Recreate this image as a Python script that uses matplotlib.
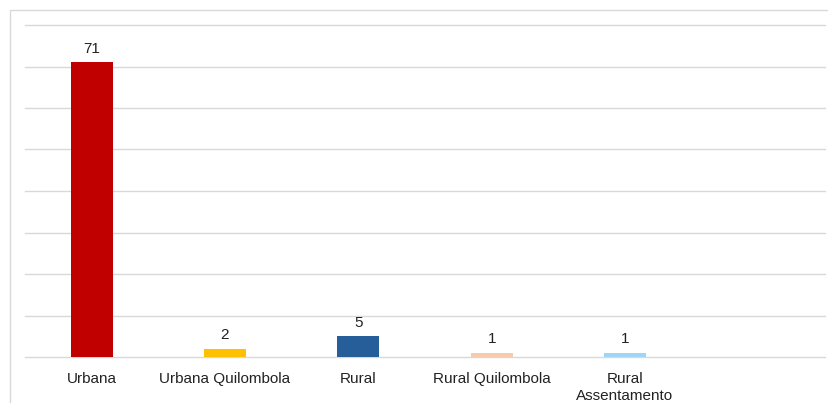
import matplotlib.pyplot as plt
from matplotlib.patches import Rectangle

categorias = ["Urbana", "Urbana Quilombola", "Rural", "Rural Quilombola", "Rural\nAssentamento", ""]
valores = [71, 2, 5, 1, 1, 0]
cores = ["#C00000", "#FFC000", "#255E99", "#F8CBAD", "#9DD7F5", "none"]
rotulos = ["71", "2", "5", "1", "1", ""]

plt.rcParams["font.family"] = ["Liberation Sans", "DejaVu Sans"]

W, H = 829, 403
fig = plt.figure(figsize=(W / 100, H / 100), dpi=100)
fig.patches.append(Rectangle((10 / W, -0.1), 1.2, (H - 10) / H + 0.1, transform=fig.transFigure,
                             fill=False, edgecolor="#D9D9D9", linewidth=1))
ax = fig.add_axes([25 / W, 46 / H, 800 / W, 332 / H])

x = list(range(len(categorias)))
bars = ax.bar(x, valores, width=0.315, color=cores, zorder=3)
for b, r in zip(bars, rotulos):
    if r:
        ax.text(b.get_x() + b.get_width() / 2, b.get_height() + 1.6, r,
                ha="center", va="bottom", fontsize=11, color="#222222")

ax.set_xlim(-0.5, len(categorias) - 0.5)
ax.set_ylim(0, 80)
for yv in range(0, 81, 10):
    ax.axhline(yv, color="#D9D9D9", linewidth=1, zorder=1, clip_on=False)
ax.set_yticks([])
ax.set_xticks(x)
ax.set_xticklabels(categorias, fontsize=11, color="#222222", linespacing=1.25)
ax.tick_params(length=0, pad=11)
for s in ax.spines.values():
    s.set_visible(False)

fig.savefig("out.png", dpi=100)
